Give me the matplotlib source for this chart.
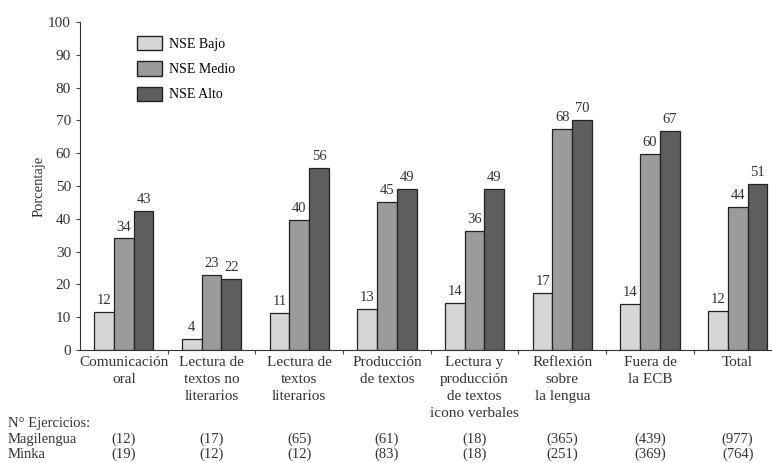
import numpy as np
import matplotlib.pyplot as plt
from matplotlib.patches import Patch

plt.rcParams['font.family'] = ['Liberation Serif', 'DejaVu Serif']

# datos
categorias = ['Comunicación\noral', 'Lectura de\ntextos no\nliterarios', 'Lectura de\ntextos\nliterarios',
              'Producción\nde textos', 'Lectura y\nproducción\nde textos\nicono verbales',
              'Reflexión\nsobre\nla lengua', 'Fuera de\nla ECB', 'Total']
bajo = [12, 4, 11, 13, 14, 17, 14, 12]
medio = [34, 23, 40, 45, 36, 68, 60, 44]
alto = [43, 22, 56, 49, 49, 70, 67, 51]
bajo_h = [11.5, 3.5, 11.2, 12.6, 14.3, 17.5, 14, 12]
medio_h = [34, 23, 39.7, 45.2, 36.2, 67.5, 59.8, 43.5]
alto_h = [42.3, 21.7, 55.5, 49, 49, 70, 66.8, 50.5]
magilengua = ['(12)', '(17)', '(65)', '(61)', '(18)', '(365)', '(439)', '(977)']
minka = ['(19)', '(12)', '(12)', '(83)', '(18)', '(251)', '(369)', '(764)']
series = ['NSE Bajo', 'NSE Medio', 'NSE Alto']
colores = ['#d6d6d6', '#9b9b9b', '#5e5e5e']

fig = plt.figure(figsize=(7.72, 4.63), dpi=100)
ax = fig.add_axes([80/772, 113/463, 691/772, 328/463])

x = np.arange(len(categorias))
w = 0.225
for i, (h, v) in enumerate(zip([bajo_h, medio_h, alto_h], [bajo, medio, alto])):
    pos = x + (i - 1) * w
    ax.bar(pos, h, width=w, color=colores[i], edgecolor='#222222', linewidth=0.9)
    for p, hh, vv in zip(pos, h, v):
        ax.text(p, hh + 1.5, str(vv), ha='center', va='bottom', fontsize=10.5, color='#333333')

ax.set_xlim(-0.5, 7.38)
ax.set_ylim(0, 100)
ax.set_yticks(range(0, 101, 10))
ax.tick_params(axis='y', labelsize=11, length=3, color='#444444', labelcolor='#333333')
ax.set_xticks(np.arange(0.5, 7.5, 1))
ax.set_xticklabels([])
ax.tick_params(axis='x', length=3, color='#444444')
for s in ['top', 'right']:
    ax.spines[s].set_visible(False)
for s in ['left', 'bottom']:
    ax.spines[s].set_color('#333333')
ax.set_ylabel('Porcentaje', fontsize=10.5, color='#333333', labelpad=2)

for xi, lab in zip(x, categorias):
    ax.text(xi, -1.8, lab, ha='center', va='top', fontsize=11, color='#333333', linespacing=1.4)

fig.text(8/772, 1 - 424/463, 'N° Ejercicios:', ha='left', va='center', fontsize=10.5, color='#333333')
fig.text(8/772, 1 - 439/463, 'Magilengua', ha='left', va='center', fontsize=10.5, color='#333333')
fig.text(8/772, 1 - 454/463, 'Minka', ha='left', va='center', fontsize=10.5, color='#333333')
for xi, a, b in zip(x, magilengua, minka):
    xf = fig.transFigure.inverted().transform(ax.transData.transform((xi, 0)))[0]
    fig.text(xf, 1 - 439/463, a, ha='center', va='center', fontsize=10.5, color='#333333')
    fig.text(xf, 1 - 454/463, b, ha='center', va='center', fontsize=10.5, color='#333333')

handles = [Patch(facecolor=c, edgecolor='#222222', label=s) for c, s in zip(colores, series)]
ax.legend(handles=handles, loc='upper left', bbox_to_anchor=(0.065, 0.995), frameon=False,
          fontsize=10, handlelength=1.8, handleheight=1.2, labelspacing=0.75, handletextpad=0.5)

fig.savefig('out.png', dpi=100)
